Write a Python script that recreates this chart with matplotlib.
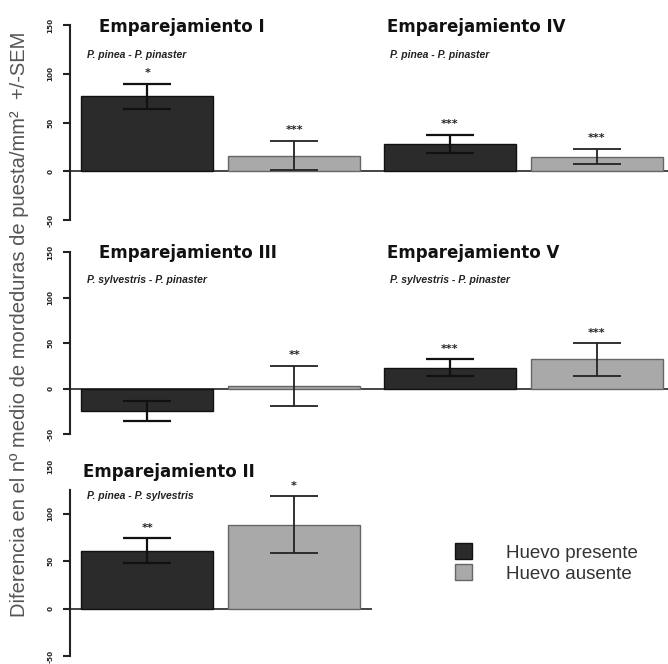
import matplotlib
matplotlib.use("Agg")
import matplotlib.pyplot as plt
import numpy as np
from matplotlib.patches import Patch

# data (units: bites/mm2 difference)
groups_row1 = ["Emparejamiento I", "Emparejamiento IV"]
species_row1 = ["P. pinea - P. pinaster", "P. pinea - P. pinaster"]
present_row1 = [77, 28]
present_err_row1 = [13, 9]
absent_row1 = [16, 15]
absent_err_row1 = [15, 8]
stars_present_row1 = ["*", "***"]
stars_absent_row1 = ["***", "***"]

groups_row2 = ["Emparejamiento III", "Emparejamiento V"]
species_row2 = ["P. sylvestris - P. pinaster", "P. sylvestris - P. pinaster"]
present_row2 = [-25, 23]
present_err_row2 = [11, 9]
absent_row2 = [3, 32]
absent_err_row2 = [22, 18]
stars_present_row2 = ["", "***"]
stars_absent_row2 = ["**", "***"]

groups_row3 = ["Emparejamiento II"]
species_row3 = ["P. pinea - P. sylvestris"]
present_row3 = [61]
present_err_row3 = [13]
absent_row3 = [88]
absent_err_row3 = [30]
stars_present_row3 = ["**"]
stars_absent_row3 = ["*"]

yticks = [-50, 0, 50, 100, 150]
legend_labels = ["Huevo presente", "Huevo ausente"]
ylabel = "Diferencia en el nº medio de mordeduras de puesta/mm²  +/-SEM"

dark = "#2b2b2b"
light = "#a9a9a9"

fig = plt.figure(figsize=(6.68, 6.64), dpi=100)

def px(y):
    return 1 - y / 664.0

rows = [
    dict(box=[70/668, px(220), 596/668, 195/664], groups=groups_row1, species=species_row1,
         pres=present_row1, perr=present_err_row1, abs_=absent_row1, aerr=absent_err_row1,
         sp=stars_present_row1, sa=stars_absent_row1, top=150, ty=27, sy=55),
    dict(box=[70/668, px(434), 596/668, 182/664], groups=groups_row2, species=species_row2,
         pres=present_row2, perr=present_err_row2, abs_=absent_row2, aerr=absent_err_row2,
         sp=stars_present_row2, sa=stars_absent_row2, top=150, ty=253, sy=280),
    dict(box=[70/668, px(656), 596/668, 190/664], groups=groups_row3, species=species_row3,
         pres=present_row3, perr=present_err_row3, abs_=absent_row3, aerr=absent_err_row3,
         sp=stars_present_row3, sa=stars_absent_row3, top=125, ty=472, sy=496),
]

width = 0.9
group_step = 2.06

for k, r in enumerate(rows):
    ax = fig.add_axes(r["box"])
    n = len(r["groups"])
    xg = np.arange(n) * group_step
    xp = xg
    xa = xg + 1
    ax.bar(xp, r["pres"], width, color=dark, edgecolor="#111111", linewidth=1.0, zorder=2)
    ax.bar(xa, r["abs_"], width, color=light, edgecolor="#666666", linewidth=1.0, zorder=2)
    ax.errorbar(xp, r["pres"], yerr=r["perr"], fmt="none", ecolor="#111111",
                elinewidth=1.6, capsize=17, capthick=1.6, zorder=3)
    ax.errorbar(xa, r["abs_"], yerr=r["aerr"], fmt="none", ecolor="#222222",
                elinewidth=1.3, capsize=17, capthick=1.3, zorder=3)
    for i in range(n):
        tp = max(r["pres"][i] + r["perr"][i], 0) + 6
        ta = max(r["abs_"][i] + r["aerr"][i], 0) + 6
        if r["sp"][i]:
            ax.text(xp[i], tp, r["sp"][i], ha="center", va="bottom", fontsize=8,
                    fontweight="bold", color="#222222")
        if r["sa"][i]:
            ax.text(xa[i], ta, r["sa"][i], ha="center", va="bottom", fontsize=8,
                    fontweight="bold", color="#222222")

    ax.set_xlim(-0.525, 3.53)
    ax.set_ylim(-50, 150)
    # zero line across the groups
    x_end = xa[-1] + width / 2 + 0.07
    ax.plot([-0.525, x_end], [0, 0], color="#444444", lw=1.4, zorder=1, clip_on=False)

    for s in ["top", "right", "bottom"]:
        ax.spines[s].set_visible(False)
    ax.spines["left"].set_linewidth(1.5)
    ax.spines["left"].set_color("#222222")
    ax.spines["left"].set_bounds(-50, r["top"])
    ax.set_xticks([])
    ax.set_yticks(yticks)
    ax.set_yticklabels([str(t) for t in yticks], rotation=90, va="center",
                       fontsize=5.2, fontweight="bold")
    ax.tick_params(axis="y", direction="out", length=5, width=1.5, pad=7, colors="#222222")
    if r["top"] < 150:
        ax.yaxis.get_major_ticks()[-1].tick1line.set_visible(False)

    # panel titles and species pair
    for i in range(n):
        if k == 2:
            tx, sx = 13, 17
        else:
            tx = 29 if i == 0 else 317
            sx = 17 if i == 0 else 320
        fig.text((70 + tx) / 668, px(r["ty"]), r["groups"][i], ha="left", va="center",
                 fontsize=12, fontweight="bold", color="#111111")
        fig.text((70 + sx) / 668, px(r["sy"]), r["species"][i], ha="left", va="center",
                 fontsize=7.5, fontweight="bold", style="italic", color="#222222",
                 family="Liberation Sans")

handles = [Patch(facecolor=dark, edgecolor="#111111"), Patch(facecolor=light, edgecolor="#666666")]
fig.legend(handles, legend_labels, loc="center left", bbox_to_anchor=(438/668, px(563)),
           frameon=False, prop={"family": "Liberation Sans", "size": 13.5},
           handlelength=0.9, handleheight=0.9, handletextpad=1.8, labelspacing=0.15,
           labelcolor="#333333")

fig.text(20/668, px(324), ylabel, rotation=90, ha="center", va="center",
         fontsize=14.5, color="#555555", family="Liberation Sans")

fig.savefig("out.png", dpi=100)
